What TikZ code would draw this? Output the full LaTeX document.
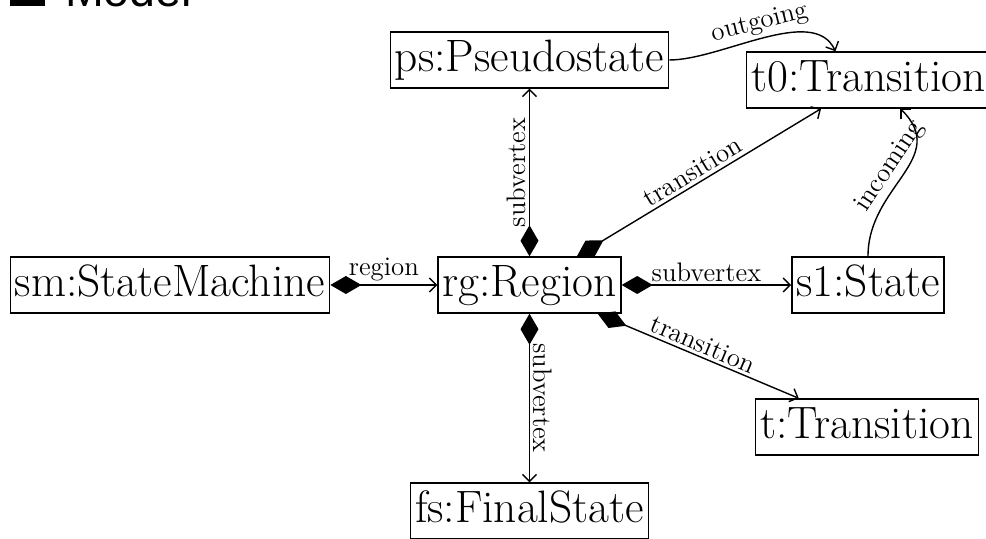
\documentclass[tikz,border=0pt]{standalone}
\usepackage{fontspec}
\setmainfont{Latin Modern Roman}
\newfontfamily\headfont{Liberation Sans}
\usetikzlibrary{arrows.meta}

\tikzset{
  obj/.style={draw, line width=0.7pt, rectangle,
    font=\fontsize{22.7}{27}\selectfont,
    inner xsep=2.3pt, inner ysep=0pt,
    text height=16pt, text depth=4.6pt, minimum height=28pt},
  lbl/.style={font=\fontsize{13.4}{16}\selectfont, inner sep=1.5pt},
  comp/.style={line width=0.7pt,
    {Diamond[length=15.5pt,width=9pt]}-{Straight Barb[length=3.5pt,width=7pt]}},
  assoc/.style={line width=0.7pt, -{Straight Barb[length=3.5pt,width=7pt]}}
}

\begin{document}
\begin{tikzpicture}[x=0.5pt,y=0.5pt]
  \useasboundingbox (0,0) rectangle (986,539);

  % heading (partly above the page)
  \fill (10,533) rectangle (45,570);
  \node[anchor=base west, inner sep=0pt, font=\headfont\fontsize{23.3}{28}\selectfont] (title) at (64.6,532) {Model};

  % objects
  \node[obj] (sm) at (170,254) {sm:StateMachine};
  \node[obj] (rg) at (529.5,254) {rg:Region};
  \node[obj] (s1) at (868,254) {s1:State};
  \node[obj] (ps) at (529.5,479) {ps:Pseudostate};
  \node[obj, anchor=west] (t0) at (746,459) {t0:Transition};
  \node[obj] (t) at (867,112) {t:Transition};
  \node[obj] (fs) at (529.5,28) {fs:FinalState};

  % composition links
  \draw[comp] (sm) -- node[lbl, above] {region} (rg);
  \draw[comp] (rg) -- node[lbl, above] {subvertex} (s1);
  \draw[comp] (rg) -- node[lbl, rotate=90, anchor=south] {subvertex} (ps);
  \draw[comp] (rg) -- node[lbl, rotate=-90, anchor=south] {subvertex} (fs);
  \draw[comp] (rg) -- node[lbl, above, sloped] {transition} (t0);
  \draw[comp] (rg) -- node[lbl, above, sloped] {transition} (t);

  % associations
  \draw[assoc] (ps) to[out=0, in=115, looseness=0.8]
    node[lbl, above, sloped] {outgoing} ([xshift=-16.5pt]t0.north);
  \draw[assoc] (s1) to[out=90, in=-45, looseness=1.2]
    node[lbl, above, sloped] {incoming} ([xshift=16pt]t0.south);
\end{tikzpicture}
\end{document}
